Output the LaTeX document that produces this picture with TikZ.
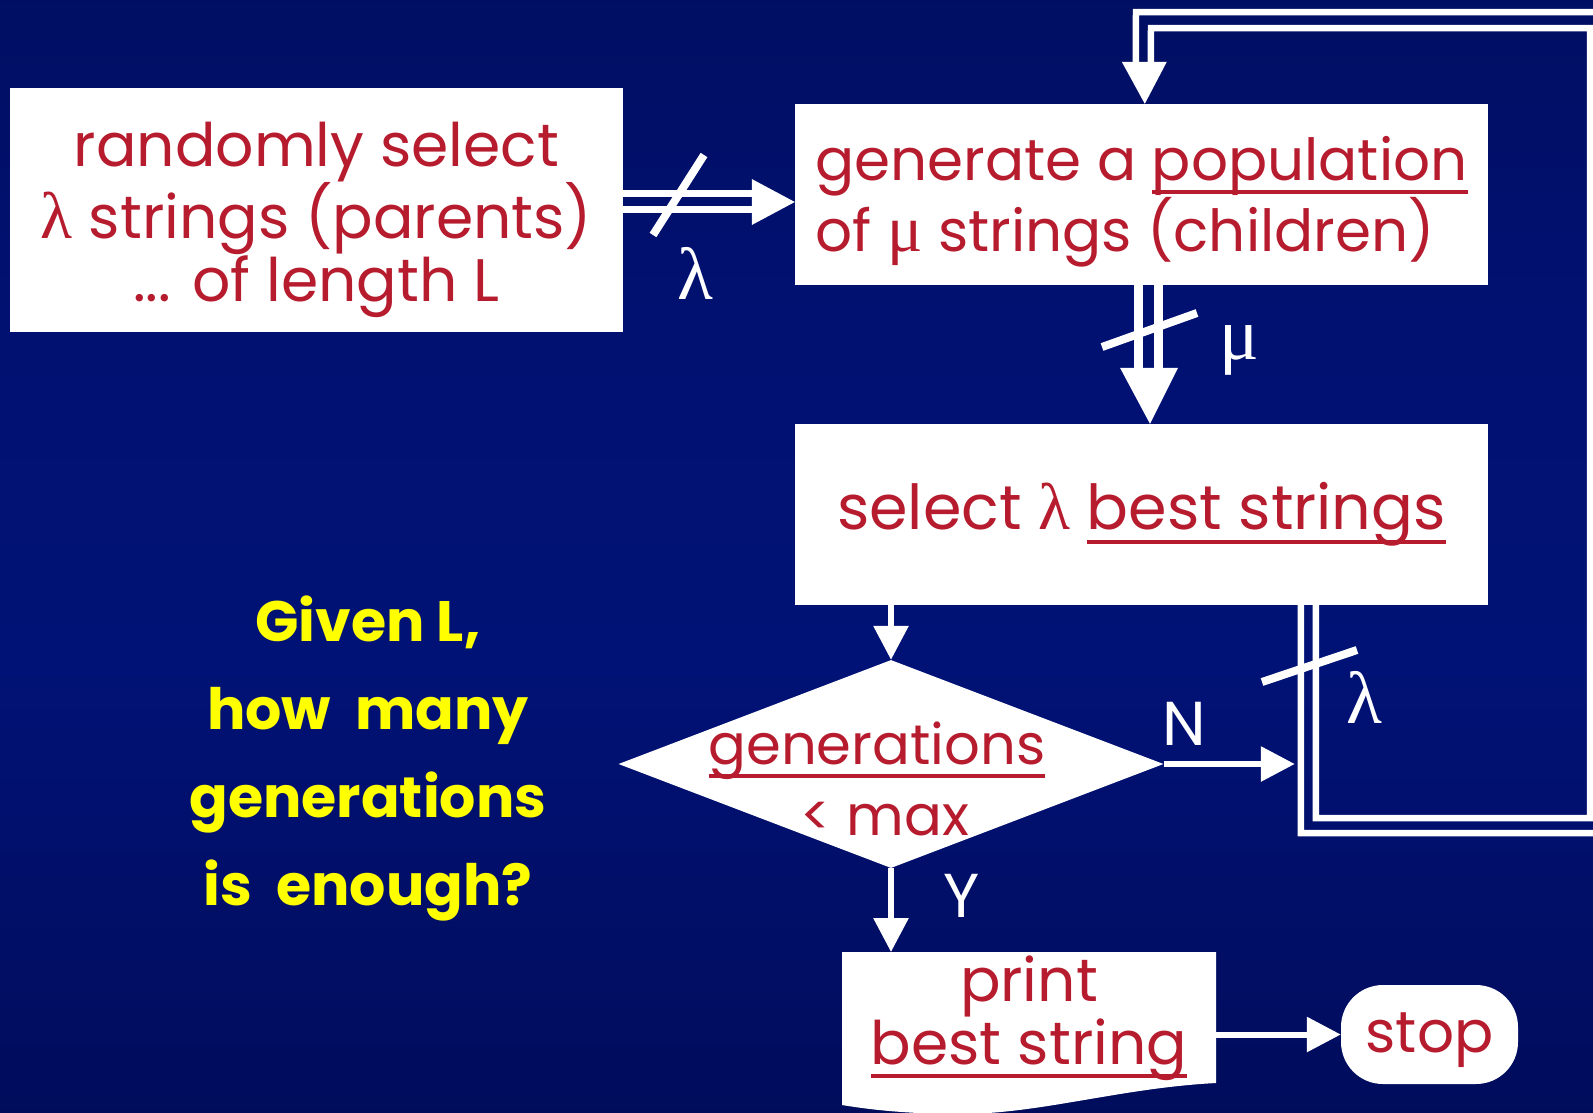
\documentclass[tikz,border=0pt]{standalone}
\usepackage{fontspec}
\setmainfont{Poppins}
\newfontfamily\gk{Liberation Serif}
\usetikzlibrary{shapes.geometric,arrows.meta,calc}
\definecolor{txtred}{RGB}{182,28,46}
\definecolor{ylw}{RGB}{255,255,0}
\definecolor{bgA}{RGB}{0,2,30}
\definecolor{bgB}{RGB}{0,9,78}
\definecolor{bgC}{RGB}{1,18,118}
\definecolor{bgD}{RGB}{1,17,114}
\definecolor{bgE}{RGB}{0,12,88}
\definecolor{bgF}{RGB}{0,7,56}
\pgfdeclareverticalshading{bgshade}{100bp}{
  color(0bp)=(bgA);
  color(15bp)=(bgB);
  color(45bp)=(bgC);
  color(60bp)=(bgD);
  color(85bp)=(bgE);
  color(100bp)=(bgF)}
\newcommand\ulx[1]{\setbox0\hbox{#1}\rlap{\rule[-14pt]{\wd0}{4pt}}\box0}
\newcommand\lam{{\gk\fontsize{66}{60}\selectfont λ}}
\newcommand\muu{{\gk\fontsize{66}{60}\selectfont μ}}
\tikzset{
  boxnode/.style={fill=white, inner sep=0pt, text=txtred, align=center, font=\fontsize{60}{62}\selectfont},
  wl/.style={draw=white, line width=6.5pt, line join=miter},
  wthick/.style={draw=white, line width=9pt},
  slash/.style={draw=white, line width=8pt},
  wa/.style={draw=white, line width=6pt, -{Triangle[length=34pt,width=34pt]}},
  lbl/.style={text=white, inner sep=0pt, font=\gk\fontsize{74}{74}\selectfont},
  yn/.style={text=white, inner sep=0pt, font=\fontsize{62}{62}\selectfont}
}
\begin{document}
\begin{tikzpicture}[x=1pt,y=1pt]
\useasboundingbox (0,0) rectangle (1593,-1112);
\shade[shading=bgshade] (0,0) rectangle (1593,-1112);

% boxes
\node[boxnode, minimum width=613, minimum height=244] (init) at (316.5,-210)
  {\rule{0pt}{64pt}randomly select\\\lam{} strings (parents)\\... of length L};
\node[boxnode, align=left, minimum width=693, minimum height=181, font=\fontsize{58}{59}\selectfont] (gen) at (1141.5,-194.5)
  {\rule{0pt}{58pt}generate a \ulx{population}\\of \muu{} strings (children)};
\node[boxnode, minimum width=693, minimum height=181, font=\fontsize{62}{62}\selectfont] (sel) at (1141.5,-514.5)
  {select \lam{} \ulx{best strings}};
\node[diamond, fill=white, inner sep=0pt, minimum width=545, minimum height=208] (dia) at (891,-764) {};
\node[text=txtred, inner sep=0pt, anchor=base, font=\fontsize{56}{64}\selectfont] (dt1) at (877,-764) {\ulx{generations}};
\node[text=txtred, inner sep=0pt, anchor=base, font=\fontsize{56}{64}\selectfont] (dt2) at (885,-835) {< max};

% print (document shape)
\fill[white] (842,-952) -- (1216,-952) -- (1216,-1083)
  .. controls (1120,-1088) and (1040,-1114) .. (960,-1114)
  .. controls (900,-1114) and (860,-1108) .. (842,-1105) -- cycle;
\node[inner sep=0pt, text=txtred, align=center, minimum width=374, minimum height=132, anchor=north,
  font=\fontsize{60}{54}\selectfont] (prt) at (1029,-952) {print\\\ulx{best string}};
\node[fill=white, rounded corners=42pt, inner sep=0pt, minimum width=177, minimum height=99,
  text=txtred, font=\fontsize{58}{64}\selectfont] (stop) at (1429.5,-1034.5) {\rule{0pt}{52pt}stop};

% question
\node[text=ylw, align=center, inner sep=0pt, font=\bfseries\fontsize{57}{88}\selectfont] (q) at (368,-758)
  {Given L,\\how~ many\\generations\\is~ enough?};

% init -> gen (double)
\coordinate (gtip) at ($(gen.west)+(0,-7.5)$);
\draw[wl, line width=7pt] ($(init.east)+(0,16.5)$) -- ($(gtip)+(-43,8.5)$);
\draw[wl, line width=7pt] ($(init.east)+(0,0.5)$) -- ($(gtip)+(-43,-7.5)$);
\fill[white] ($(gtip)+(-43,23)$) -- (gtip) -- ($(gtip)+(-43,-23)$) -- cycle;
\draw[slash] (653,-235) -- (704,-155);
\node[lbl] (l1) at (695,-273) {λ};

% gen -> sel (double)
\coordinate (stip) at ($(sel.north)+(8.5,0)$);
\draw[wthick] ($(gen.south)+(-3.5,0)$) -- ($(stip)+(-12,56)$);
\draw[wthick] ($(gen.south)+(17,0)$) -- ($(stip)+(8.5,56)$);
\fill[white] ($(stip)+(-30,56)$) -- (stip) -- ($(stip)+(28,56)$) -- cycle;
\draw[slash] (1102,-347) -- (1197,-313);
\node[lbl] (l2) at (1239,-350) {μ};

% feedback loop sel -> gen (double)
\coordinate (lo1) at ($(sel.south west)+(506,0)$);
\coordinate (li1) at ($(sel.south west)+(521,0)$);
\coordinate (ttip) at ($(gen.north west)+(350,0)$);
\coordinate (go) at ($(ttip)+(-9,41)$);
\coordinate (gi) at ($(ttip)+(6,41)$);
\draw[wl] (lo1) -- ($(lo1)+(0,-228)$) -- (1606,-833) -- (1606,-12) -- (1136,-12) -- (go);
\draw[wl] (li1) -- ($(li1)+(0,-213)$) -- (1590,-818) -- (1590,-28) -- (1151,-28) -- (gi);
\fill[white] ($(ttip)+(-23,42)$) -- (ttip) -- ($(ttip)+(22,42)$) -- cycle;
\draw[slash] (1262,-682) -- (1357,-650);
\node[lbl] (l3) at (1364,-697) {λ};

% single arrows
\coordinate (nend) at ($(lo1 |- dia.east)+(-6,0)$);
\draw[wa] (sel.south -| dia.north) -- (dia.north);
\draw[wa] (dia.east) -- (nend);
\node[yn] (nlab) at (1184,-724) {N};
\draw[wa] (dia.south) -- (dia.south |- prt.north);
\node[yn] (ylab) at (962,-896) {Y};
\draw[wa] (prt.east |- stop.west) -- (stop.west);
\end{tikzpicture}
\end{document}
